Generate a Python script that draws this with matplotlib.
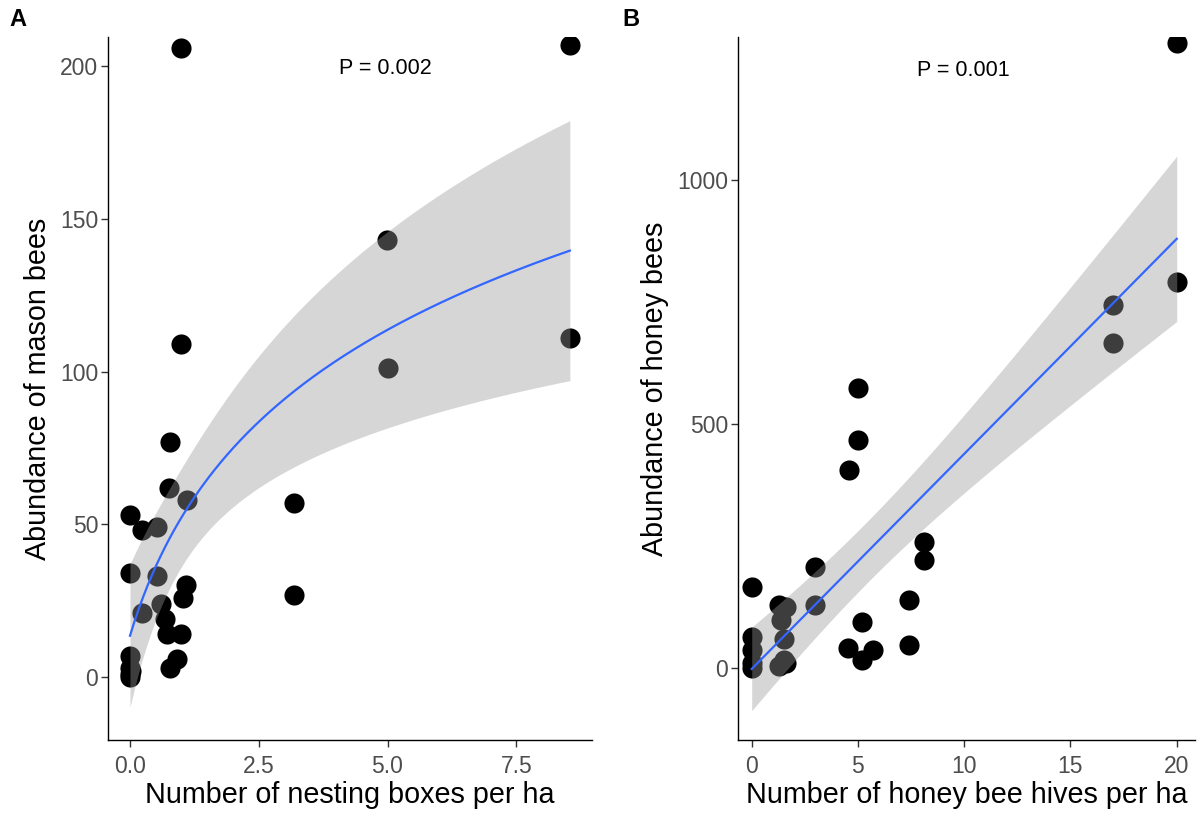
import numpy as np
import matplotlib
matplotlib.use("Agg")
import matplotlib.pyplot as plt

plt.rcParams['font.family'] = ['Liberation Sans', 'DejaVu Sans']

# Panel A: nesting boxes per ha vs mason bee abundance
boxes = [0.99, 8.54, 4.99, 5.0, 8.54, 1.0, 0.78, 0.76, 1.10, 3.18, 3.18, 0.0, 0.23, 0.52,
         0.0, 0.52, 1.09, 1.03, 0.61, 0.23, 0.68, 0.71, 1.0, 0.91, 0.78, 0.0, 0.0, 0.0, 0.0, 0.02]
mason = [206, 207, 143, 101, 111, 109, 77, 62, 58, 57, 27, 53, 48, 49,
         34, 33, 30, 26, 24, 21, 19, 14, 14, 6, 3, 7, 3, 1, 0, 2]

# Panel B: honey bee hives per ha vs honey bee abundance
hives = [20.0, 20.0, 17.0, 17.0, 5.0, 5.0, 4.6, 8.1, 8.1, 3.0, 7.4, 3.0, 7.4, 0.0, 0.0,
         0.0, 0.0, 0.0, 1.3, 1.6, 1.4, 1.5, 1.5, 1.3, 5.2, 4.55, 5.7, 5.2, 1.6]
honey = [1281, 790, 744, 666, 574, 467, 406, 259, 221, 207, 140, 129, 47, 167, 64,
         37, 10, 0, 129, 125, 98, 60, 16, 5, 95, 40, 37, 16, 10]

p_text = ["P = 0.002", "P = 0.001"]


def ols_band(u, y, ugrid):
    u = np.asarray(u, float); y = np.asarray(y, float)
    n = len(u)
    X = np.column_stack([np.ones(n), u])
    beta, *_ = np.linalg.lstsq(X, y, rcond=None)
    resid = y - X @ beta
    s2 = resid @ resid / (n - 2)
    cov = s2 * np.linalg.inv(X.T @ X)
    G = np.column_stack([np.ones(len(ugrid)), ugrid])
    fit = G @ beta
    se = np.sqrt(np.einsum('ij,jk,ik->i', G, cov, G))
    t = 2.05
    return fit, fit - t * se, fit + t * se


fig = plt.figure(figsize=(12.01, 8.16), dpi=100)
axA = fig.add_axes([108/1201, 76/816, 484/1201, 703/816])
axB = fig.add_axes([738/1201, 76/816, 457/1201, 703/816])

tick_col = '#4D4D4D'
for ax in (axA, axB):
    for s in ('top', 'right'):
        ax.spines[s].set_visible(False)
    for s in ('left', 'bottom'):
        ax.spines[s].set_color('black')
        ax.spines[s].set_linewidth(1.0)
    ax.tick_params(axis='both', colors='#333333', labelcolor=tick_col, labelsize=16.5,
                   length=5, width=1)
    ax.tick_params(axis='x', pad=6)
    ax.tick_params(axis='y', pad=2)

# Panel A
axA.scatter(boxes, mason, s=210, color='black', linewidths=0, zorder=2)
xg = np.linspace(min(boxes), max(boxes), 200)
fit, lo, hi = ols_band(np.log1p(boxes), mason, np.log1p(xg))
axA.fill_between(xg, lo, hi, color='#999999', alpha=0.4, linewidth=0, zorder=3)
axA.plot(xg, fit, color='#3366FF', lw=1.6, zorder=4)
axA.set_xlim(-0.427, 8.97)
axA.set_ylim(-20.6, 209.5)
axA.set_xticks([0, 2.5, 5.0, 7.5])
axA.set_xticklabels(['0.0', '2.5', '5.0', '7.5'])
axA.set_yticks([0, 50, 100, 150, 200])
axA.set_xlabel('Number of nesting boxes per ha', fontsize=20.7, color='black', labelpad=2)
axA.set_ylabel('Abundance of mason bees', fontsize=20.7, color='black', labelpad=6)
axA.text(385/1201, 1 - 68/816, p_text[0], transform=fig.transFigure, ha='center', va='center',
         fontsize=15.5, color='black')

# Panel B
axB.scatter(hives, honey, s=210, color='black', linewidths=0, zorder=2)
xg2 = np.linspace(min(hives), max(hives), 200)
fit2, lo2, hi2 = ols_band(hives, honey, xg2)
axB.fill_between(xg2, lo2, hi2, color='#999999', alpha=0.4, linewidth=0, zorder=3)
axB.plot(xg2, fit2, color='#3366FF', lw=1.6, zorder=4)
axB.set_xlim(-0.645, 20.86)
axB.set_ylim(-147.5, 1293)
axB.set_xticks([0, 5, 10, 15, 20])
axB.set_yticks([0, 500, 1000])
axB.set_xlabel('Number of honey bee hives per ha', fontsize=20.7, color='black', labelpad=2)
axB.set_ylabel('Abundance of honey bees', fontsize=20.7, color='black', labelpad=6)
axB.text(963/1201, 1 - 70/816, p_text[1], transform=fig.transFigure, ha='center', va='center',
         fontsize=15.5, color='black')

fig.text(18/1201, 1 - 20/816, 'A', fontsize=17, fontweight='bold', ha='center', va='center')
fig.text(631/1201, 1 - 20/816, 'B', fontsize=17, fontweight='bold', ha='center', va='center')

fig.savefig('out.png', dpi=100)
